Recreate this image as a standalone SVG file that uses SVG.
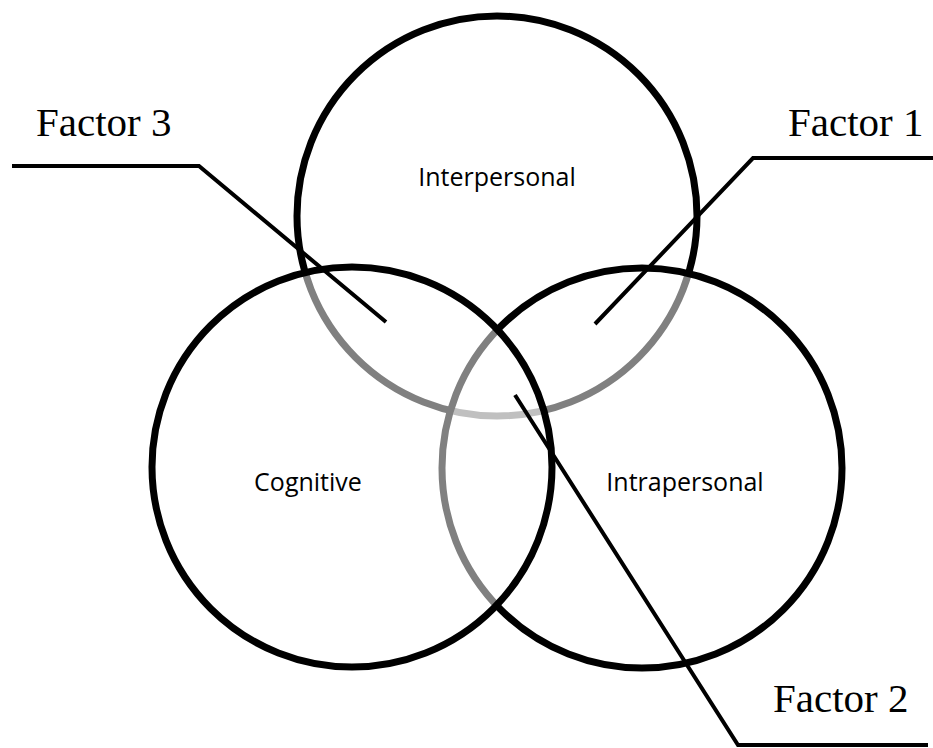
<svg xmlns="http://www.w3.org/2000/svg" width="933" height="748" viewBox="0 0 933 748">
<style>
.c{fill:#fff;fill-opacity:0.5;stroke:#000;stroke-width:7}
.lead{fill:none;stroke:#000;stroke-width:4;stroke-linejoin:miter}
.lbl{font-family:"Open Sans","DejaVu Sans",sans-serif;font-size:25px;fill:#000;text-anchor:middle}
.fac{font-family:"Liberation Serif","Times New Roman",serif;font-size:41px;fill:#000}
</style>
<rect width="933" height="748" fill="#fff"/>
<g id="interpersonal"><circle class="c" cx="497" cy="216" r="200"/></g>
<g id="intrapersonal"><circle class="c" cx="642" cy="468" r="200"/></g>
<g id="cognitive"><circle class="c" cx="352" cy="467" r="200"/></g>
<g id="labels">
<text class="lbl" x="497" y="186">Interpersonal</text>
<text class="lbl" x="308" y="491">Cognitive</text>
<text class="lbl" x="685" y="491">Intrapersonal</text>
</g>
<g id="connectors">
<polyline class="lead" points="12,166 199,166 386,322"/>
<polyline class="lead" points="933,158 753,158 595,324"/>
<polyline class="lead" points="515,395 738,745 928,745"/>
</g>
<g id="factor3"><text class="fac" x="36" y="136">Factor 3</text></g>
<g id="factor1"><text class="fac" x="788" y="136">Factor 1</text></g>
<g id="factor2"><text class="fac" x="773" y="712">Factor 2</text></g>
</svg>
